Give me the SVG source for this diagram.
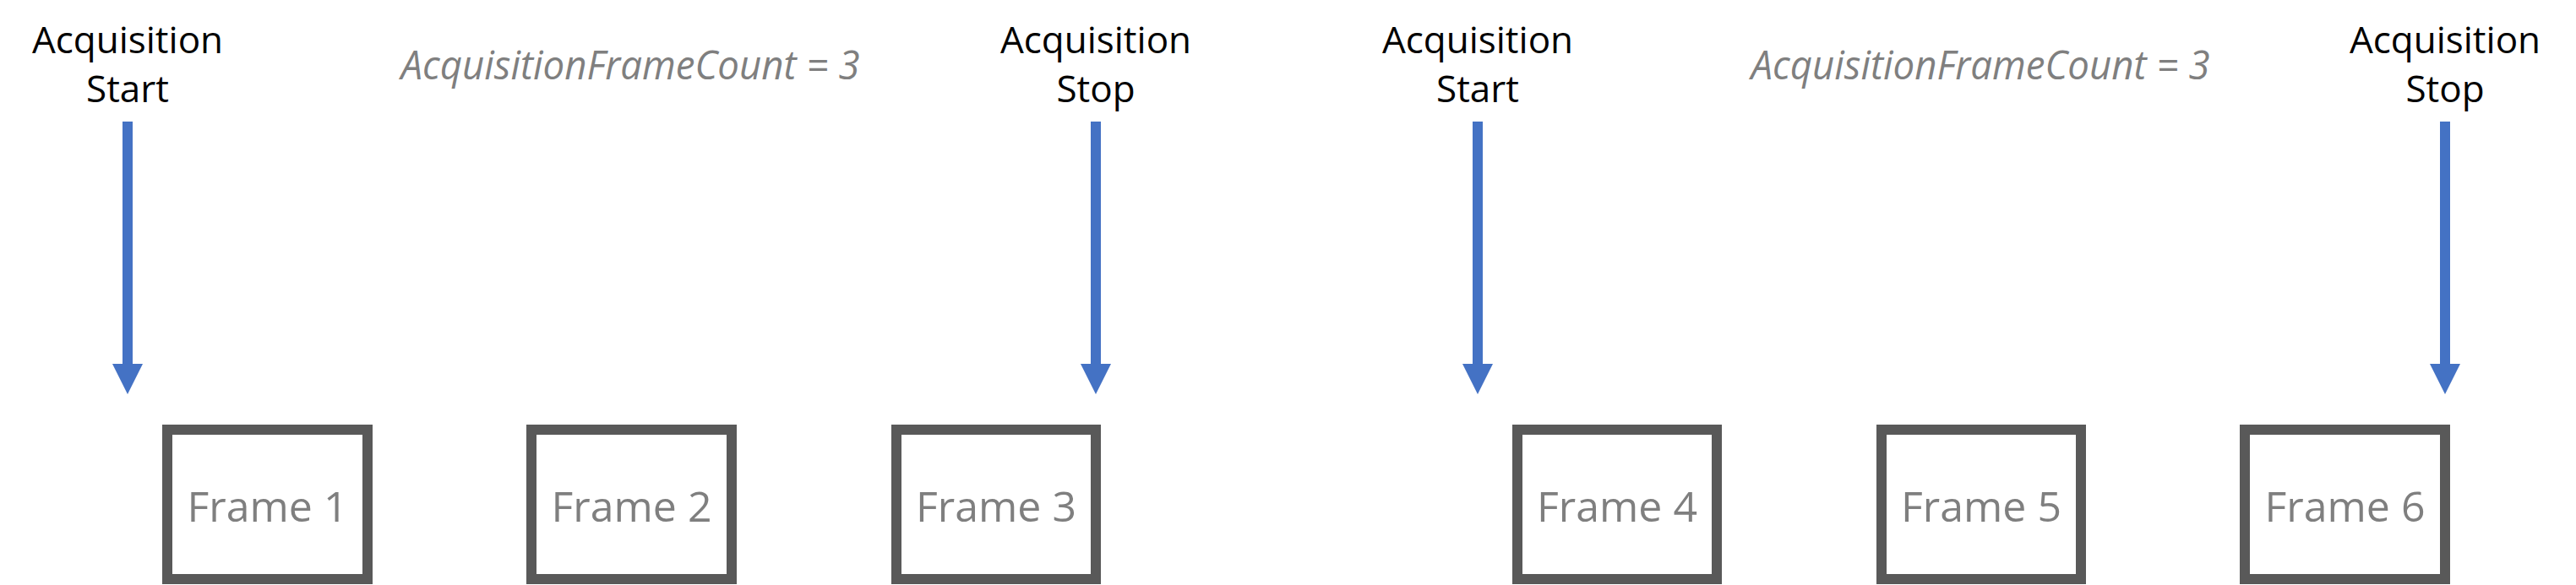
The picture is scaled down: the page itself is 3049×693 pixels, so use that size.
<svg xmlns="http://www.w3.org/2000/svg" width="3049" height="693" viewBox="0 0 3049 693">
<style>
.lbl{font-family:"Open Sans","Noto Sans",sans-serif;font-size:44px;fill:#000000;text-anchor:middle}
.cnt{font-family:"Open Sans","Noto Sans",sans-serif;font-size:48px;font-style:italic;fill:#7F7F7F;text-anchor:middle}
.frm rect{fill:#FFFFFF;stroke:#595959;stroke-width:12}
.frm text{font-family:"Open Sans","Noto Sans",sans-serif;font-size:50px;fill:#7F7F7F;text-anchor:middle}
.arr{stroke:#4472C4;stroke-width:12;fill:none;marker-end:url(#head)}
</style>
<defs>
<marker id="head" viewBox="0 0 36 36" markerWidth="36" markerHeight="36" refX="0" refY="18" orient="auto" markerUnits="userSpaceOnUse">
<path d="M0,0 L36,18 L0,36 Z" fill="#4472C4"/>
</marker>
</defs>
<rect width="3049" height="693" fill="#FFFFFF"/>
<g id="start1"><text class="lbl" x="151" y="63">Acquisition</text><text class="lbl" x="151" y="121">Start</text></g>
<g id="stop1"><text class="lbl" x="1297" y="63">Acquisition</text><text class="lbl" x="1297" y="121">Stop</text></g>
<g id="start2"><text class="lbl" x="1749" y="63">Acquisition</text><text class="lbl" x="1749" y="121">Start</text></g>
<g id="stop2"><text class="lbl" x="2894" y="63">Acquisition</text><text class="lbl" x="2894" y="121">Stop</text></g>
<g id="count1"><text class="cnt" x="746" y="94" textLength="543" lengthAdjust="spacingAndGlyphs">AcquisitionFrameCount = 3</text></g>
<g id="count2"><text class="cnt" x="2344" y="94" textLength="543" lengthAdjust="spacingAndGlyphs">AcquisitionFrameCount = 3</text></g>
<g id="connectors">
<line class="arr" x1="151" y1="144" x2="151" y2="431"/>
<line class="arr" x1="1297" y1="144" x2="1297" y2="431"/>
<line class="arr" x1="1749" y1="144" x2="1749" y2="431"/>
<line class="arr" x1="2894" y1="144" x2="2894" y2="431"/>
</g>
<g id="frame1" class="frm"><rect x="198" y="509" width="237" height="177"/><text x="316.5" y="618">Frame 1</text></g>
<g id="frame2" class="frm"><rect x="629" y="509" width="237" height="177"/><text x="747.5" y="618">Frame 2</text></g>
<g id="frame3" class="frm"><rect x="1061" y="509" width="236" height="177"/><text x="1179" y="618">Frame 3</text></g>
<g id="frame4" class="frm"><rect x="1796" y="509" width="236" height="177"/><text x="1914" y="618">Frame 4</text></g>
<g id="frame5" class="frm"><rect x="2227" y="509" width="236" height="177"/><text x="2345" y="618">Frame 5</text></g>
<g id="frame6" class="frm"><rect x="2657" y="509" width="237" height="177"/><text x="2775.5" y="618">Frame 6</text></g>
</svg>
